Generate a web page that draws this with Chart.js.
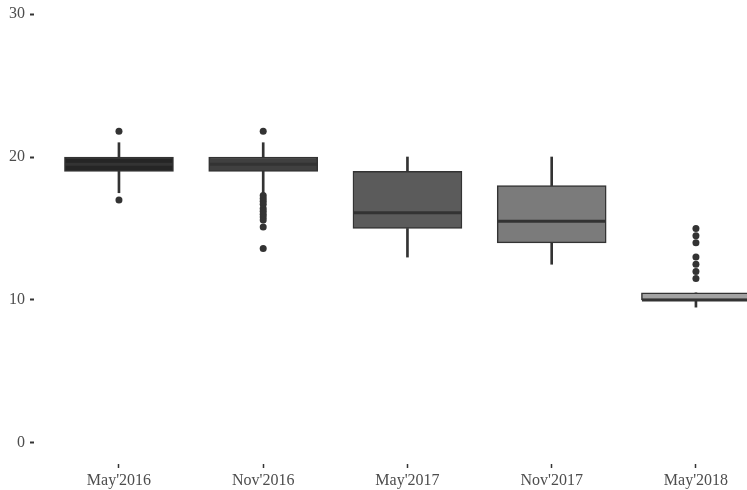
<!DOCTYPE html>
<html>
<head>
<meta charset="utf-8">
<script src="https://cdn.jsdelivr.net/npm/chart.js@4/dist/chart.umd.min.js"></script>
<style>
  html, body { margin: 0; padding: 0; background: #fff; overflow: hidden; }
</style>
</head>
<body>
<canvas id="box_chart" width="747" height="490"></canvas>
<script>
// datos de cada caja
const categories = ["May'2016", "Nov'2016", "May'2017", "Nov'2017", "May'2018"];
const whiskerLow = [17.5, 17.5, 13, 12.5, 9.5];
const q1 = [19, 19, 15, 14, 10];
const median = [19.5, 19.5, 16.1, 15.5, 10];
const q3 = [20, 20, 19, 18, 10.5];
const whiskerHigh = [21, 21, 20, 20, 10.5];
const outliers = [
    [21.8, 17],
    [21.8, 17.3, 17.1, 16.9, 16.7, 16.4, 16.2, 16, 15.8, 15.6, 15.1, 13.6],
    [],
    [],
    [15, 14.5, 14, 13, 12.5, 12, 11.5],
];
const yTicks = [0, 10, 20, 30];

// estilos
const fillColors = ["#252525", "#404040", "#5b5b5b", "#7b7b7b", "#a3a3a3"];
const lineColor = "#333333";
const textColor = "#4d4d4d";

const idx = categories.map((c, i) => i);
const outlierPts = [];
outliers.forEach(function (vals, i) {
    vals.forEach(function (v) {
        outlierPts.push({ x: i, y: v });
    });
});

const chartData = {
    datasets: [
        {
            type: "bar",
            data: idx.map((i) => ({ x: i, y: [whiskerLow[i], q1[i]] })),
            backgroundColor: lineColor,
            barThickness: 2,
            grouped: false,
            order: 4,
        },
        {
            type: "bar",
            data: idx.map((i) => ({ x: i, y: [q3[i], whiskerHigh[i]] })),
            backgroundColor: lineColor,
            barThickness: 2,
            grouped: false,
            order: 4,
        },
        {
            type: "bar",
            data: idx.map((i) => ({ x: i, y: [q1[i], q3[i]] })),
            backgroundColor: fillColors,
            borderColor: lineColor,
            borderWidth: 1.5,
            borderSkipped: false,
            barThickness: 109,
            grouped: false,
            order: 3,
        },
        {
            type: "scatter",
            data: idx.map((i) => ({ x: i, y: median[i] })),
            pointStyle: "line",
            pointRadius: 54,
            borderColor: lineColor,
            borderWidth: 3,
            order: 2,
        },
        {
            type: "scatter",
            data: outlierPts,
            pointRadius: 3.5,
            backgroundColor: lineColor,
            borderWidth: 0,
            order: 1,
        },
    ],
};

const tickFont = { family: "'Liberation Serif', 'DejaVu Serif', serif", size: 16 };

new Chart(document.getElementById("box_chart").getContext("2d"), {
    type: "bar",
    data: chartData,
    options: {
        responsive: false,
        animation: false,
        devicePixelRatio: 1,
        layout: { padding: 0, autoPadding: false },
        plugins: { legend: { display: false }, tooltip: { enabled: false } },
        scales: {
            x: {
                type: "linear",
                offset: false,
                min: -0.589,
                max: 4.354,
                afterBuildTicks: function (scale) {
                    scale.ticks = idx.map((i) => ({ value: i }));
                },
                afterFit: function (scale) {
                    scale.height = 26;
                    scale.paddingLeft = 0;
                    scale.paddingRight = 0;
                },
                ticks: {
                    callback: (v) => categories[v],
                    autoSkip: false,
                    maxRotation: 0,
                    padding: 3,
                    color: textColor,
                    font: tickFont,
                },
                grid: {
                    offset: false,
                    drawOnChartArea: false,
                    tickLength: 4,
                    tickColor: lineColor,
                    tickWidth: 1.5,
                },
                border: { display: false },
            },
            y: {
                min: -1.47,
                max: 30.98,
                afterBuildTicks: function (scale) {
                    scale.ticks = yTicks.map((v) => ({ value: v }));
                },
                afterFit: function (scale) {
                    scale.width = 34;
                    scale.paddingTop = 0;
                    scale.paddingBottom = 0;
                },
                ticks: {
                    padding: 5,
                    color: textColor,
                    font: tickFont,
                },
                grid: {
                    drawOnChartArea: false,
                    tickLength: 4,
                    tickColor: lineColor,
                    tickWidth: 2,
                },
                border: { display: false },
            },
        },
    },
});
</script>
</body>
</html>
